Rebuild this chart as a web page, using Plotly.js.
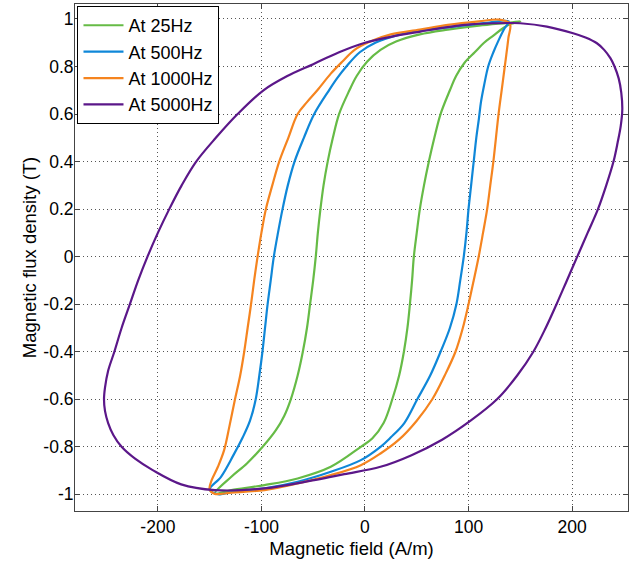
<!DOCTYPE html>
<html>
<head>
<meta charset="utf-8">
<script src="https://cdn.plot.ly/plotly-3.0.1.min.js"></script>
<style>html,body{margin:0;padding:0;background:#fff;}#chart{width:640px;height:565px;}</style>
</head>
<body>
<div id="chart"></div>
<script>
// ---- Data (H in A/m, B in T) ----
const names = ["At 25Hz", "At 500Hz", "At 1000Hz", "At 5000Hz"];

const h25 = [150, 140, 110, 80, 53, 30, 15, 2, -8, -15, -25, -31, -36, -40, -43, -45.5, -47.5, -50, -53, -56, -60, -65, -71.6, -78, -86, -98.8, -114, -129, -145,
  -129, -97, -65, -33, -4, 7, 18, 26.4, 33, 37.6, 41, 43.4, 45.5, 47.2, 50, 53, 57, 61.7, 67, 73, 82, 88, 96, 106, 115, 124, 133, 140, 150];
const b25 = [0.99, 0.985, 0.972, 0.955, 0.935, 0.905, 0.87, 0.82, 0.76, 0.70, 0.60, 0.50, 0.40, 0.30, 0.20, 0.10, 0.0, -0.10, -0.20, -0.30, -0.40, -0.50, -0.60, -0.67, -0.73, -0.80, -0.87, -0.926, -0.996,
  -0.982, -0.961, -0.933, -0.884, -0.80, -0.765, -0.70, -0.60, -0.50, -0.40, -0.30, -0.20, -0.10, 0.0, 0.10, 0.20, 0.30, 0.40, 0.50, 0.60, 0.70, 0.76, 0.815, 0.86, 0.90, 0.93, 0.96, 0.978, 0.99];

const h500 = [138.7, 120, 100, 80, 53, 30, 10, -5, -18, -27, -34.7, -49, -59, -68, -74.5, -79.6, -84, -88, -91, -94, -96.5, -99, -102, -105.5, -111, -118, -127, -139, -150,
  -140.7, -129, -97, -65, -33, -4, 15, 25, 38, 50.5, 63, 73, 82, 88.3, 92, 95.4, 98, 100, 102.5, 105, 107.5, 110, 112, 115, 119, 124, 129, 134, 138.7];
const b500 = [0.99, 0.985, 0.975, 0.965, 0.95, 0.93, 0.90, 0.86, 0.80, 0.75, 0.70, 0.60, 0.50, 0.40, 0.30, 0.20, 0.10, 0.0, -0.10, -0.20, -0.30, -0.40, -0.50, -0.60, -0.69, -0.76, -0.835, -0.926, -0.98,
  -1.0, -0.99, -0.975, -0.947, -0.905, -0.856, -0.80, -0.76, -0.70, -0.60, -0.50, -0.40, -0.30, -0.20, -0.10, 0.0, 0.10, 0.20, 0.30, 0.40, 0.50, 0.58, 0.65, 0.72, 0.80, 0.86, 0.91, 0.955, 0.99];

const h1000 = [140, 130, 110, 80, 53, 25, 5, -10, -22, -33, -46, -56, -65, -74, -82.8, -89.5, -95.7, -100, -103.7, -107, -110, -113.3, -116.6, -120.5, -125.5, -131, -136, -142, -148.6, -150,
  -145, -129, -97, -65, -33, -4, 15, 32.8, 50, 65, 77, 87.4, 94.5, 100, 105, 109.8, 114, 118, 121, 124, 126.5, 129, 132, 135, 136.5, 138.5, 140];
const b1000 = [0.98, 0.997, 0.99, 0.975, 0.955, 0.935, 0.905, 0.87, 0.82, 0.77, 0.70, 0.65, 0.60, 0.50, 0.40, 0.30, 0.20, 0.10, 0.0, -0.10, -0.20, -0.30, -0.40, -0.50, -0.60, -0.716, -0.814, -0.884, -0.947, -0.98,
  -0.998, -0.993, -0.982, -0.954, -0.919, -0.877, -0.828, -0.77, -0.69, -0.60, -0.50, -0.40, -0.30, -0.20, -0.10, 0.0, 0.10, 0.20, 0.30, 0.40, 0.50, 0.60, 0.70, 0.80, 0.85, 0.92, 0.98];

const h5000 = [140, 150, 175.7, 201, 213, 224, 231, 237, 241, 245, 247.5, 248.5, 247, 244, 240, 233, 225, 215, 205, 195, 185, 174.5, 162.6, 147, 127.5, 102, 74.5, 45, 15, -20, -49, -97, -145,
  -177.5, -205, -222, -235, -243, -248, -251, -252, -251, -248, -242, -235, -227, -219, -210, -200, -189, -177, -163, -144, -123, -98, -75, -50, -25, 0, 25, 53.6, 80, 102, 125, 140];
const b5000 = [0.983, 0.982, 0.968, 0.94, 0.922, 0.898, 0.87, 0.835, 0.80, 0.75, 0.69, 0.62, 0.55, 0.48, 0.40, 0.30, 0.20, 0.10, 0.0, -0.10, -0.20, -0.30, -0.40, -0.50, -0.60, -0.69, -0.77, -0.835, -0.884, -0.915, -0.94, -0.975, -0.982,
  -0.958, -0.898, -0.85, -0.80, -0.75, -0.70, -0.65, -0.60, -0.55, -0.48, -0.40, -0.30, -0.20, -0.10, 0.0, 0.10, 0.20, 0.30, 0.40, 0.50, 0.60, 0.70, 0.76, 0.81, 0.86, 0.90, 0.925, 0.947, 0.966, 0.977, 0.982, 0.983];

const xTickVals = [-200, -100, 0, 100, 200];
const xTickText = ["-200", "-100", "0", "100", "200"];
const yTickVals = [-1, -0.8, -0.6, -0.4, -0.2, 0, 0.2, 0.4, 0.6, 0.8, 1];
const yTickText = ["-1", "-0.8", "-0.6", "-0.4", "-0.2", "0", "0.2", "0.4", "0.6", "0.8", "1"];

const colors = ["#66bb46", "#0f87d8", "#f5841f", "#5b1789"];
const xs = [h25, h500, h1000, h5000];
const ys = [b25, b500, b1000, b5000];

const traces = names.map((n, i) => ({
  x: xs[i], y: ys[i], name: n, type: "scatter", mode: "lines",
  line: { color: colors[i], width: 2.2, shape: "spline", smoothing: 1 }
}));

const font = "Liberation Sans, Arial, sans-serif";
const axisCommon = {
  showline: true, linecolor: "#444", linewidth: 1, mirror: "ticks",
  ticks: "inside", ticklen: 5, tickcolor: "#444", tickwidth: 1,
  showgrid: true, gridcolor: "#555", gridwidth: 1, griddash: "1px,3px",
  zeroline: false, tickfont: { family: font, size: 17.5, color: "#000" }
};

const layout = {
  width: 640, height: 565,
  margin: { l: 75, r: 12, t: 4, b: 54 },
  paper_bgcolor: "#fff", plot_bgcolor: "#fff",
  showlegend: true,
  legend: {
    x: 0.0045, y: 0.996, xanchor: "left", yanchor: "top",
    bgcolor: "#fff", bordercolor: "#000", borderwidth: 1,
    font: { family: font, size: 18, color: "#000" },
    itemwidth: 40, tracegroupgap: 0
  },
  xaxis: Object.assign({}, axisCommon, {
    range: [-280, 254], tickvals: xTickVals, ticktext: xTickText,
    title: { text: "Magnetic field (A/m)", font: { family: font, size: 18.5, color: "#000" }, standoff: 6 }
  }),
  yaxis: Object.assign({}, axisCommon, {
    range: [-1.07, 1.063], tickvals: yTickVals, ticktext: yTickText,
    ticklabelstandoff: -3,
    title: { text: "Magnetic flux density (T)", font: { family: font, size: 18.5, color: "#000" }, standoff: 1 }
  })
};

Plotly.newPlot("chart", traces, layout, { displayModeBar: false, staticPlot: true });
</script>
</body>
</html>
